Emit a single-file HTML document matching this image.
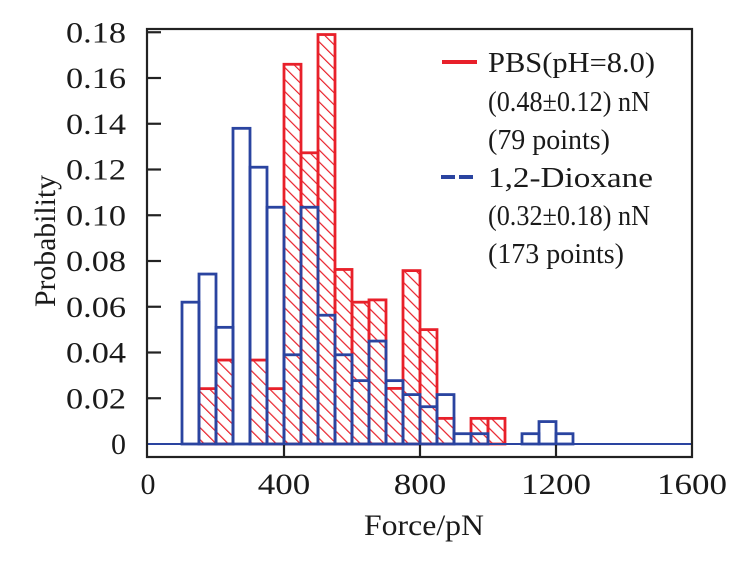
<!DOCTYPE html>
<html><head><meta charset="utf-8"><style>
html,body{margin:0;padding:0;background:#fff;}
svg text{font-family:"Liberation Serif",serif;fill:#1a1a1a;}
</style></head><body>
<svg id="chart" width="753" height="557" viewBox="0 0 753 557" xmlns="http://www.w3.org/2000/svg">
<defs>
<pattern id="hatch" patternUnits="userSpaceOnUse" width="8.5" height="8.5" patternTransform="rotate(-45)">
<line x1="0" y1="0" x2="0" y2="8.5" stroke="#e8202a" stroke-width="2.4"/>
</pattern>
</defs>
<g id="plot"></g>
</svg>
<script>
const binStarts = [100,150,200,250,300,350,400,450,500,550,600,650,700,750,800,850,900,950,1000,1050,1100,1150,1200];
const redValues = [0,0.0242,0.0367,0,0.0367,0.0242,0.166,0.1273,0.179,0.0763,0.062,0.063,0.0243,0.0758,0.050,0.0112,0,0.0112,0.0112,0,0,0,0];
const blueValues = [0.062,0.0743,0.051,0.138,0.121,0.1035,0.039,0.1035,0.0563,0.039,0.0277,0.045,0.0277,0.0216,0.0163,0.0216,0.0045,0.0045,0,0,0.0045,0.0098,0.0045];
const binWidth = 50;
const xTicks = [0,400,800,1200,1600];
const yTicks = [0,0.02,0.04,0.06,0.08,0.10,0.12,0.14,0.16,0.18];
const yTickLabels = ["0","0.02","0.04","0.06","0.08","0.10","0.12","0.14","0.16","0.18"];
const legendLines = ["PBS(pH=8.0)","(0.48\u00b10.12) nN","(79 points)","1,2-Dioxane","(0.32\u00b10.18) nN","(173 points)"];

const NS="http://www.w3.org/2000/svg";
const g=document.getElementById('plot');
const L=148,R=692,T=29,B=457,Y0=444;
const sx=v=>L+(v/1600)*(R-L);
const sy=v=>Y0-v*2287.5;
function mk(tag,attrs){const e=document.createElementNS(NS,tag);for(const k in attrs)e.setAttribute(k,attrs[k]);g.appendChild(e);return e;}

redValues.forEach((v,i)=>{ if(v<=0)return;
  const r=mk('rect',{x:sx(binStarts[i]),y:sy(v),width:sx(binStarts[i]+binWidth)-sx(binStarts[i]),height:Y0-sy(v),fill:'url(#hatch)',stroke:'#e8202a','stroke-width':2.8});
  
  
});
const bl=mk('line',{x1:L,y1:Y0,x2:R,y2:Y0,stroke:'#2a44a0','stroke-width':2});


blueValues.forEach((v,i)=>{ if(v<=0)return;
  const r=mk('rect',{x:sx(binStarts[i]),y:sy(v),width:sx(binStarts[i]+binWidth)-sx(binStarts[i]),height:Y0-sy(v),fill:'none',stroke:'#2a44a0','stroke-width':2.8});
  
  
});
const fr=mk('rect',{x:L-1,y:T,width:R-L+1,height:B-T,fill:'none',stroke:'#222','stroke-width':2.2});


yTicks.forEach((v,i)=>{
  if(i>0){const t=mk('line',{x1:L,y1:sy(v),x2:L+13,y2:sy(v),stroke:'#222','stroke-width':2.2});
  
  }
  const lab=yTickLabels[i];
  const tx=mk('text',{x:L-22,y:sy(v)+10,'text-anchor':'end','font-size':30});
  if(lab.length>1){tx.setAttribute('textLength',60);tx.setAttribute('lengthAdjust','spacingAndGlyphs');}
  tx.textContent=lab;
  
  
});
xTicks.forEach(v=>{
  if(v>0&&v<1600){const t=mk('line',{x1:sx(v),y1:B,x2:sx(v),y2:B-12,stroke:'#222','stroke-width':2.2});
  
  }
  const lab=String(v);
  const tx=mk('text',{x:sx(v),y:494,'text-anchor':'middle','font-size':30});
  if(lab.length>1){tx.setAttribute('textLength',lab.length*17.5);tx.setAttribute('lengthAdjust','spacingAndGlyphs');}
  tx.textContent=lab;
  
  
});
const xt=mk('text',{x:424,y:535,'text-anchor':'middle','font-size':30,textLength:120,lengthAdjust:'spacingAndGlyphs'});
xt.textContent='Force/pN';


const yt=mk('text',{x:0,y:0,'text-anchor':'middle','font-size':30,textLength:132,lengthAdjust:'spacingAndGlyphs',transform:'translate(55,241) rotate(-90)'});
yt.textContent='Probability';


const ys=[62,101,139,177,215,253];
const widths=[167,162,122,165,162,136];
legendLines.forEach((s,i)=>{
  const t=mk('text',{x:488,y:ys[i]+10,'font-size':29,textLength:widths[i],lengthAdjust:'spacingAndGlyphs'});
  t.textContent=s;
  
  
});
const lr=mk('line',{x1:442,y1:62,x2:477,y2:62,stroke:'#e8202a','stroke-width':4});


const lb=mk('line',{x1:441,y1:177,x2:475,y2:177,stroke:'#2a44a0','stroke-width':4,'stroke-dasharray':'14,4'});


</script>
</body></html>
